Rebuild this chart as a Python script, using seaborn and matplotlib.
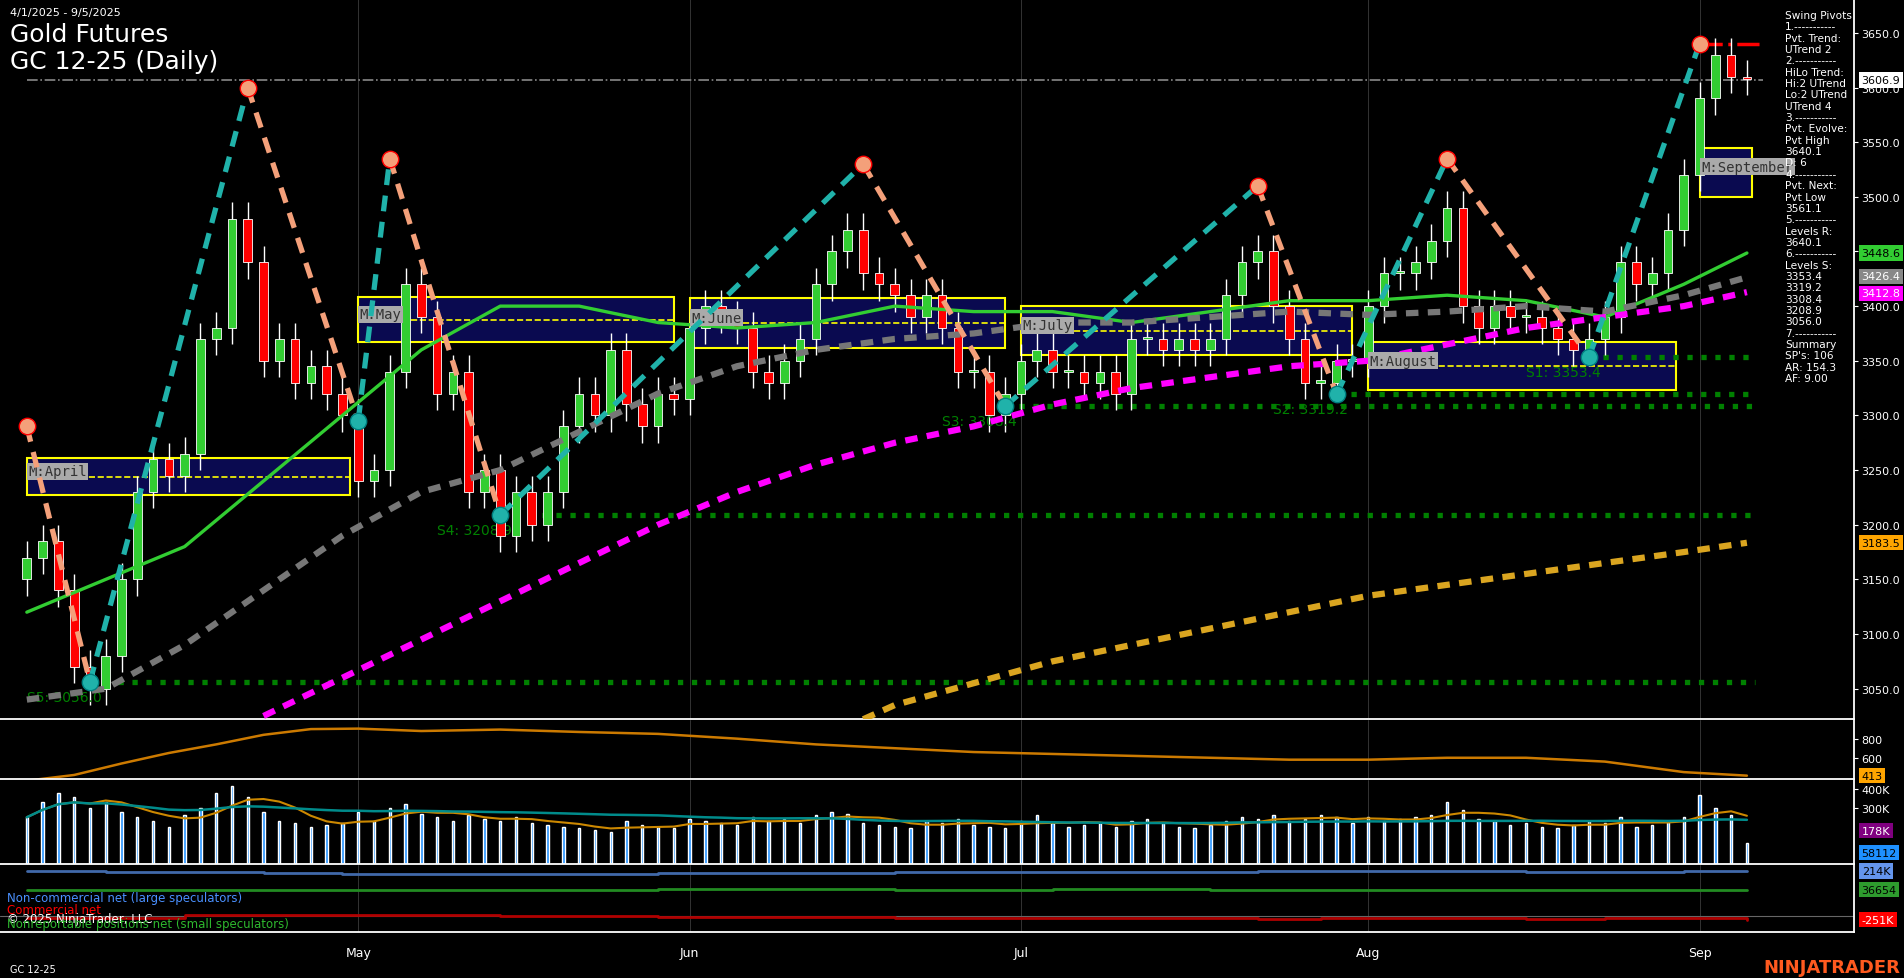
import numpy as np
import pandas as pd
import matplotlib
matplotlib.use("Agg")
import matplotlib.pyplot as plt
import seaborn as sns
from matplotlib.patches import Rectangle

sns.set_style("dark")
plt.rcParams['font.family'] = ['DejaVu Sans']

closes = [3170, 3185, 3140, 3070, 3050, 3080, 3150, 3230, 3260, 3245, 3265, 3370, 3380, 3480, 3440, 3350, 3370, 3330, 3345, 3320, 3300,
          3240, 3250, 3340, 3420, 3390, 3320, 3340, 3230, 3250, 3190, 3230, 3200, 3230, 3290, 3320, 3300, 3360, 3310, 3290, 3320, 3315,
          3380, 3400, 3390, 3380, 3340, 3330, 3350, 3370, 3420, 3450, 3470, 3430, 3420, 3410, 3390, 3410, 3380, 3340, 3340, 3300, 3320,
          3350, 3360, 3340, 3340, 3330, 3340, 3320, 3370, 3370, 3360, 3370, 3360, 3370, 3410, 3440, 3450, 3400, 3370, 3330, 3330, 3350, 3350,
          3400, 3430, 3430, 3440, 3460, 3490, 3400, 3380, 3400, 3390, 3390, 3380, 3370, 3360, 3370, 3390, 3440, 3420, 3430, 3470, 3520,
          3590, 3630, 3610, 3608]
first_open = 3150
volume = [250, 330, 380, 360, 300, 330, 280, 250, 230, 200, 260, 300, 380, 420, 360, 280, 230, 220, 200, 210, 220,
          280, 230, 300, 320, 270, 250, 230, 260, 240, 230, 250, 220, 210, 200, 190, 180, 170, 230, 210, 200, 190,
          240, 230, 220, 210, 250, 230, 240, 220, 260, 280, 270, 220, 210, 200, 190, 230, 220, 240, 210, 200, 190,
          230, 260, 220, 200, 210, 220, 200, 230, 240, 220, 200, 190, 210, 230, 250, 240, 260, 230, 240, 260, 250, 220,
          250, 230, 240, 250, 260, 330, 290, 240, 230, 210, 220, 200, 190, 210, 230, 220, 250, 200, 210, 230, 250,
          370, 300, 260, 110]
month_names = ["May", "Jun", "Jul", "Aug", "Sep"]
month_idx = [21, 42, 63, 85, 106]

ma_idx = [0, 5, 10, 15, 20, 25, 30, 35, 40, 45, 50, 55, 60, 65, 70, 75, 80, 85, 90, 95, 100, 105, 109]
ma_green = [3120, 3150, 3180, 3240, 3300, 3360, 3400, 3400, 3385, 3380, 3385, 3400, 3395, 3395, 3385, 3395, 3405, 3405, 3410, 3405, 3390, 3420, 3448.6]
ma_gray = [3040, 3050, 3090, 3140, 3190, 3230, 3250, 3285, 3320, 3345, 3360, 3370, 3375, 3385, 3385, 3390, 3395, 3392, 3395, 3400, 3395, 3410, 3426.4]
mag_idx = [15, 20, 25, 30, 35, 40, 45, 50, 55, 60, 65, 70, 75, 80, 85, 90, 95, 100, 105, 109]
ma_mag = [3025, 3060, 3095, 3130, 3165, 3200, 3230, 3255, 3275, 3290, 3310, 3325, 3335, 3345, 3350, 3365, 3380, 3390, 3400, 3412.8]
org_idx = [53, 55, 60, 65, 70, 75, 80, 85, 90, 95, 100, 105, 109]
ma_org = [3022, 3035, 3055, 3075, 3090, 3105, 3120, 3135, 3145, 3155, 3165, 3175, 3183.5]

piv_idx = [0, 4, 14, 21, 23, 30, 53, 62, 78, 83, 90, 99, 106]
piv_px = [3290, 3056, 3600, 3295, 3535, 3208.9, 3530, 3308.4, 3510, 3319.2, 3535, 3353.4, 3640.1]

box_names = ["M:April", "M:May", "M:June", "M:July", "M:August", "M:September"]
box_x0 = [0, 21, 42, 63, 85, 106]
box_x1 = [20.5, 41, 62, 84, 104.5, 109.3]
box_lo = [3227, 3367, 3362, 3355, 3323, 3500]
box_hi = [3261, 3408, 3407, 3400, 3367, 3545]

sup_names = ["S5: 3056.0", "S4: 3208.9", "S3: 3308.4", "S2: 3319.2", "S1: 3353.4"]
sup_val = [3056.0, 3208.9, 3308.4, 3319.2, 3353.4]
sup_start = [4, 30, 62, 83, 99]

osc_idx = [0, 3, 6, 9, 12, 15, 18, 21, 25, 30, 35, 40, 45, 50, 55, 60, 65, 70, 75, 80, 85, 90, 95, 100, 105, 109]
osc_val = [360, 420, 540, 650, 740, 840, 900, 905, 880, 895, 870, 850, 800, 740, 700, 660, 640, 620, 600, 580, 580, 600, 600, 560, 450, 413]
cot_idx = [0, 5, 10, 15, 20, 30, 40, 45, 55, 65, 75, 78, 82, 86, 90, 95, 100, 105, 109]
cot_large = [214, 200, 200, 192, 190, 190, 192, 198, 200, 202, 205, 218, 215, 210, 212, 208, 205, 210, 214]
cot_small = [36, 36, 36, 36, 36, 36, 38, 38, 37, 38, 37, 34, 37, 37, 37, 37, 37, 37, 36.654]
cot_comm = [-230, -230, -210, -210, -210, -212, -220, -225, -230, -232, -235, -245, -235, -238, -235, -240, -232, -235, -251]

BG = "black"
fig = plt.figure(figsize=(19.04, 9.79), dpi=100, facecolor=BG)
W, Hs = 1568, 806
LBL = 8


def ax_at(y0, y1):
    a = fig.add_axes([0, 1 - y1 / Hs, 1527 / W, (y1 - y0) / Hs], facecolor=BG)
    a.set_xlim(-1.7, 115.8)
    for s in a.spines.values():
        s.set_color("white")
        s.set_linewidth(1.3)
    a.spines["left"].set_visible(False)
    a.spines["top"].set_visible(False)
    a.yaxis.tick_right()
    a.tick_params(colors="white", labelsize=LBL, length=3, pad=2)
    a.grid(False)
    a.set_xticks([])
    for m in month_idx:
        a.axvline(m, color="#333333", lw=0.7, zorder=0)
    return a


def tag(a, v, t, fc, tc):
    a.text(1.004, v, t, transform=a.get_yaxis_transform(), color=tc, fontsize=LBL, va="center",
           bbox=dict(fc=fc, ec="none", pad=1.8))


ax = ax_at(0, 593)
ax.set_ylim(3022, 3681)
ax.set_yticks(np.arange(3050, 3651, 50))
ax.set_yticklabels([f"{v:.1f}" for v in np.arange(3050, 3651, 50)])

x = np.arange(len(closes))
opens = [first_open] + closes[:-1]
for i, (o, c) in enumerate(zip(opens, closes)):
    col = "#32cd32" if c >= o else "red"
    ax.vlines(i, min(o, c) - 15, max(o, c) + 15, color="white", lw=1, zorder=3)
    ax.bar(i, abs(c - o) if abs(c - o) > 1 else 2, bottom=min(o, c), width=0.55, color=col, edgecolor="white", lw=0.6, zorder=4)

for b in range(len(box_names)):
    ax.add_patch(Rectangle((box_x0[b], box_lo[b]), box_x1[b] - box_x0[b], box_hi[b] - box_lo[b],
                           facecolor="#0a0a50", edgecolor="yellow", lw=1.5, zorder=1))
    ax.plot([box_x0[b], box_x1[b]], [(box_lo[b] + box_hi[b]) / 2] * 2, color="yellow", ls="--", lw=1.2, zorder=2)
    ax.text(box_x0[b] + 0.1, (box_lo[b] + box_hi[b]) / 2 + 5, box_names[b], color="#333333", fontsize=10,
            family="monospace", va="center", bbox=dict(fc="#aaaaaa", ec="none", pad=1), zorder=6)

df = pd.DataFrame({"i": ma_idx, "g": ma_green, "k": ma_gray})
sns.lineplot(data=df, x="i", y="g", ax=ax, color="#32cd32", lw=2.4, zorder=5)
sns.lineplot(data=df, x="i", y="k", ax=ax, color="#777777", lw=4.5, ls=(0, (2, 1.5)), zorder=5)
sns.lineplot(x=mag_idx, y=ma_mag, ax=ax, color="magenta", lw=4.5, ls=(0, (2, 1.5)), zorder=5)
sns.lineplot(x=org_idx, y=ma_org, ax=ax, color="#daa520", lw=4.5, ls=(0, (2, 1.5)), zorder=5)

for k in range(len(piv_idx) - 1):
    up = piv_px[k + 1] > piv_px[k]
    ax.plot(piv_idx[k:k + 2], piv_px[k:k + 2], color="#20b2aa" if up else "#f4a07a", lw=3.8, ls=(0, (3, 2)), zorder=6)
for k in range(len(piv_idx)):
    hi = k == 0 or piv_px[k] > piv_px[k - 1]
    ax.scatter(piv_idx[k], piv_px[k], s=140, color="#f4a07a" if hi else "#20b2aa", edgecolor="red" if hi else "#008080", zorder=7)

for n, v, s in zip(sup_names, sup_val, sup_start):
    ax.plot([s, 109.5], [v, v], color="green", ls=":", lw=3.8, zorder=2)
    ax.text(s - 4 if s > 10 else 0, v - 17, n, color="green", fontsize=10)
ax.plot([0, 110], [3606.9, 3606.9], color="#888888", ls="-.", lw=1.2, zorder=2)
ax.plot([106, 110], [3640.1, 3640.1], color="red", ls="-.", lw=2.5, zorder=2)

for v, t, fc, tc in [(3606.9, "3606.9", "white", "black"), (3448.6, "3448.6", "#32cd32", "black"),
                     (3427.4, "3426.4", "#888888", "white"), (3411.8, "3412.8", "magenta", "white"),
                     (3183.5, "3183.5", "orange", "black")]:
    tag(ax, v, t, fc, tc)

panel = ["Swing Pivots", "1.-----------", "Pvt. Trend:", "UTrend 2", "2.-----------", "HiLo Trend:", "Hi:2 UTrend",
         "Lo:2 UTrend", "UTrend 4", "3.-----------", "Pvt. Evolve:", "Pvt High", "3640.1", "D: 6", "4.-----------",
         "Pvt. Next:", "Pvt Low", "3561.1", "5.-----------", "Levels R:", "3640.1", "6.-----------", "Levels S:",
         "3353.4", "3319.2", "3308.4", "3208.9", "3056.0", "7.-----------", "Summary", "SP's: 106", "AR: 154.3", "AF: 9.00"]
for j, t in enumerate(panel):
    fig.text(1470 / W, 1 - (13 + j * 9.35) / Hs, t, color="white", fontsize=7.6, va="center")

fig.text(8 / W, 1 - 11 / Hs, "4/1/2025 - 9/5/2025", color="white", fontsize=8, va="center")
fig.text(8 / W, 1 - 29 / Hs, "Gold Futures", color="white", fontsize=18, va="center")
fig.text(8 / W, 1 - 51 / Hs, "GC 12-25 (Daily)", color="white", fontsize=18, va="center")

ax2 = ax_at(594, 642)
ax2.set_ylim(380, 990)
ax2.set_yticks([600, 800])
sns.lineplot(x=osc_idx, y=osc_val, ax=ax2, color="#cc7a00", lw=1.8)
tag(ax2, 413, "413", "orange", "black")

ax3 = ax_at(643, 712)
ax3.set_ylim(0, 450)
ax3.set_yticks([300, 400])
ax3.set_yticklabels(["300K", "400K"])
ax3.bar(x, volume, width=0.15, color="#1e90ff")
vol_avg = pd.Series(volume).rolling(5, min_periods=1).mean()
sns.lineplot(x=x, y=vol_avg.values, ax=ax3, color="#cc8800", lw=1.5)
sns.lineplot(x=x, y=pd.Series(volume).rolling(40, min_periods=1).mean().values, ax=ax3, color="#008b8b", lw=1.8)
tag(ax3, 178, "178K", "purple", "white")
tag(ax3, 60, "58112", "#1e90ff", "black")

ax4 = ax_at(713, 768)
ax4.set_ylim(-366, 271)
ax4.set_yticks([])
sns.lineplot(x=cot_idx, y=cot_large, ax=ax4, color="#4169aa", lw=2, drawstyle="steps-post")
sns.lineplot(x=cot_idx, y=cot_small, ax=ax4, color="#228b22", lw=2, drawstyle="steps-post")
sns.lineplot(x=cot_idx, y=cot_comm, ax=ax4, color="#b00000", lw=2, drawstyle="steps-post")
ax4.axhline(-212, color="#666666", lw=0.8, zorder=0)
for v, t, fc, tc in [(214, "214K", "#6495ed", "black"), (36.654, "36654", "#2e9b2e", "black"), (-251, "-251K", "red", "white")]:
    tag(ax4, v, t, fc, tc)
ax4.text(0.004, 0.52, "Non-commercial net (large speculators)", transform=ax4.transAxes, color="#4a90ff", fontsize=8.5, va="center")
ax4.text(0.004, 0.33, "Commercial net", transform=ax4.transAxes, color="red", fontsize=8.5, va="center")
ax4.text(0.004, 0.2, "© 2025 NinjaTrader, LLC", transform=ax4.transAxes, color="white", fontsize=8.5, va="center")
ax4.text(0.004, 0.12, "Nonreportable positions net (small speculators)", transform=ax4.transAxes, color="#2eb82e", fontsize=8.5, va="center")
ax4.set_xticks(month_idx)
ax4.set_xticklabels(month_names)
ax4.tick_params(axis="x", colors="white", labelsize=9, length=4, pad=6)
for a in (ax, ax2, ax3, ax4):
    a.set_xlabel("")
    a.set_ylabel("")

fig.text(8 / W, 1 - 799 / Hs, "GC 12-25", color="white", fontsize=7, va="center")
fig.text(1565 / W, 1 - 797 / Hs, "NINJATRADER", color="#ff5a1f", fontsize=13, fontweight="bold", ha="right", va="center")

fig.savefig("out.png", dpi=100, facecolor=BG)
